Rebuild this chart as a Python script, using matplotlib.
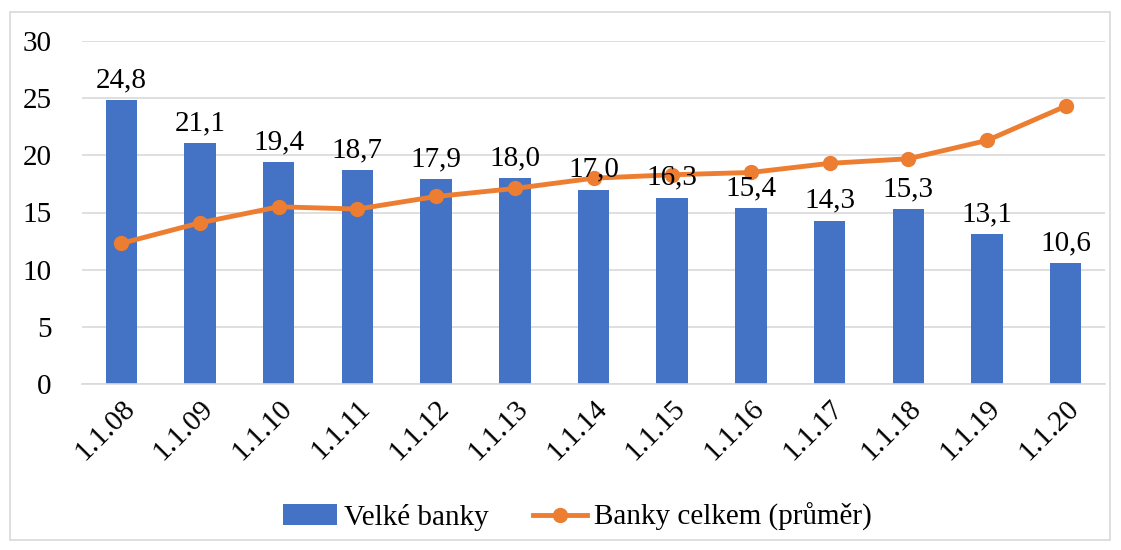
import matplotlib.pyplot as plt
from matplotlib.patches import Rectangle
import numpy as np

categories = ["1.1.08", "1.1.09", "1.1.10", "1.1.11", "1.1.12", "1.1.13", "1.1.14",
              "1.1.15", "1.1.16", "1.1.17", "1.1.18", "1.1.19", "1.1.20"]
velke_banky = [24.8, 21.1, 19.4, 18.7, 17.9, 18.0, 17.0, 16.3, 15.4, 14.3, 15.3, 13.1, 10.6]
banky_celkem = [12.3, 14.1, 15.5, 15.3, 16.4, 17.1, 18.0, 18.3, 18.5, 19.3, 19.7, 21.3, 24.3]

plt.rcParams['font.family'] = ['Liberation Serif', 'DejaVu Serif']
FS = 21

fig = plt.figure(figsize=(11.21, 5.5), dpi=100)
ax = fig.add_axes([82/1121, 1-384/550, (1105-82)/1121, (384-41)/550])

# outer border
fig.patches.append(Rectangle((10/1121, 10/550), 1100/1121, 528/550, transform=fig.transFigure,
                             fill=False, edgecolor='#d9d9d9', linewidth=1.2))

x = np.arange(len(categories))
bars = ax.bar(x, velke_banky, width=0.4, color='#4472C4', label='Velké banky', zorder=2)
line, = ax.plot(x, banky_celkem, color='#ED7D31', linewidth=3.5, marker='o', markersize=10,
                label='Banky celkem (průměr)', zorder=3)

for xi, v in zip(x, velke_banky):
    ax.text(xi, v + 0.6, f"{v:.1f}".replace('.', ','), ha='center', va='bottom', fontsize=FS, zorder=4)

ax.set_xlim(-0.5, len(categories) - 0.5)
ax.set_ylim(0, 30)
ax.set_yticks(range(0, 31, 5))
ax.yaxis.grid(True, color='#d9d9d9', linewidth=1.2, zorder=0)
ax.set_axisbelow(True)
for s in ['top', 'right', 'left']:
    ax.spines[s].set_visible(False)
ax.spines['bottom'].set_color('#d9d9d9')
ax.spines['bottom'].set_linewidth(1.2)
ax.tick_params(axis='both', length=0, labelsize=FS)
ax.tick_params(axis='y', pad=22)
ax.set_xticks(x)
ax.set_xticklabels(categories, rotation=45, ha='right', rotation_mode='anchor')
ax.tick_params(axis='x', pad=8)

leg = fig.legend([bars, line], ['Velké banky', 'Banky celkem (průměr)'],
                 loc='center', bbox_to_anchor=(0.515, 1-517/550), ncol=2, frameon=False,
                 fontsize=FS, handlelength=1.85, columnspacing=1.5, handletextpad=0.25)

fig.savefig('out.png', dpi=100)
